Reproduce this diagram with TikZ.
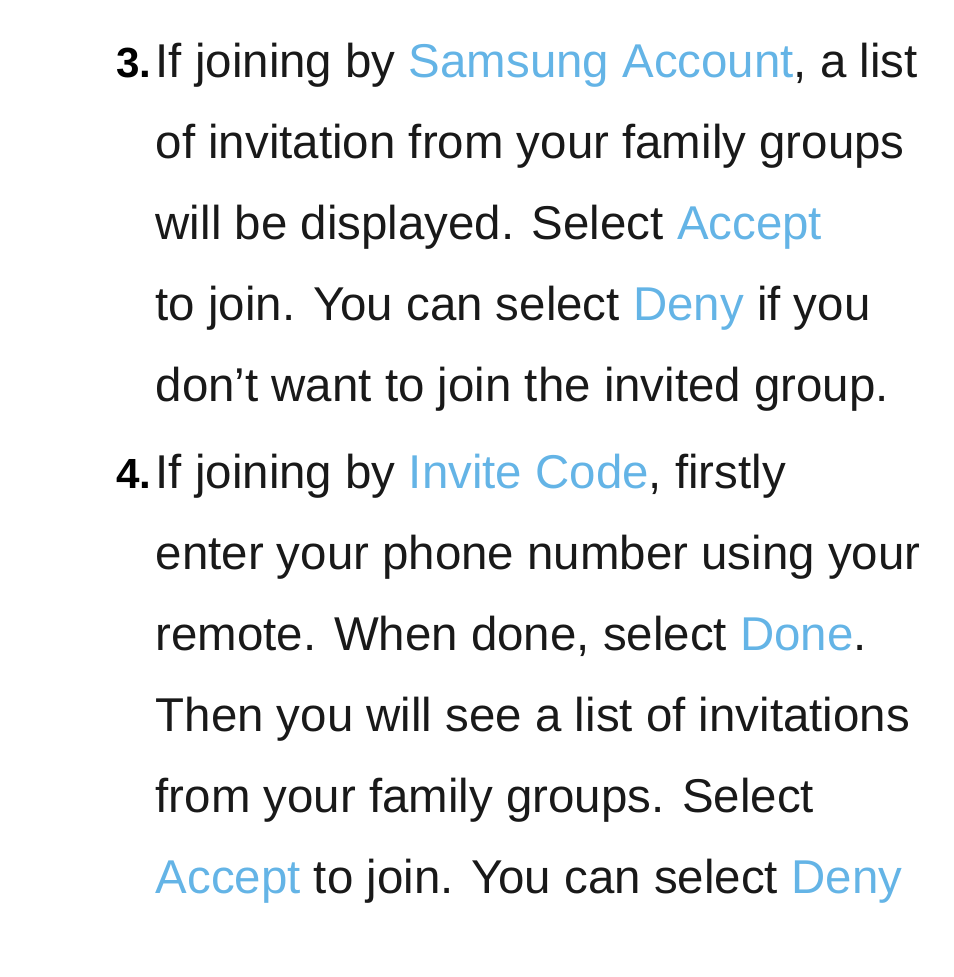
\documentclass[tikz,border=0pt]{standalone}
\usepackage{fontspec}
\setmainfont{Liberation Sans}
\definecolor{menublue}{RGB}{100,180,230}
\newcommand{\mn}[1]{\textcolor{menublue}{#1}}
\tikzset{line/.style={anchor=base west, inner sep=0pt, font=\fontsize{13.5}{16}\selectfont, text=black!90},
  num/.style={anchor=base east, inner sep=0pt, font=\fontsize{12}{14}\selectfont\bfseries}}
\begin{document}
\begin{tikzpicture}
\useasboundingbox (0,0) rectangle (9.54,9.77);
\node[num] (n3) at (1.52,8.99) {3.};
\node[line] (l1) at (1.55,8.99) {If joining by \mn{Samsung Account}, a list};
\node[line] (l2) at (1.55,8.18) {of invitation from your family groups};
\node[line] (l3) at (1.55,7.37) {will be displayed. Select \mn{Accept}};
\node[line] (l4) at (1.55,6.56) {to join. You can select \mn{Deny} if you};
\node[line] (l5) at (1.55,5.75) {don't want to join the invited group.};
\node[num] (n4) at (1.52,4.88) {4.};
\node[line] (l6) at (1.55,4.88) {If joining by \mn{Invite Code}, firstly};
\node[line] (l7) at (1.55,4.07) {enter your phone number using your};
\node[line] (l8) at (1.55,3.26) {remote. When done, select \mn{Done}.};
\node[line] (l9) at (1.55,2.45) {Then you will see a list of invitations};
\node[line] (l10) at (1.55,1.64) {from your family groups. Select};
\node[line] (l11) at (1.55,0.83) {\mn{Accept} to join. You can select \mn{Deny}};
\end{tikzpicture}
\end{document}
